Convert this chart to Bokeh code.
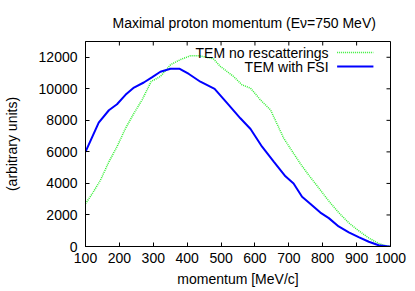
from bokeh.plotting import figure
from bokeh.models import Range1d, Label, FixedTicker
from bokeh.embed import file_html
from bokeh.resources import INLINE

# ---- data ----
p_nores = [100, 120, 144, 169, 193, 218, 243, 267, 294, 321, 351, 380, 410, 434,
           469, 478, 498, 537, 562, 587, 616, 646, 685, 705, 734, 759, 788, 818,
           847, 877, 906, 936, 965, 990, 1000]
v_nores = [2720, 3350, 4200, 5370, 6330, 7490, 8450, 9300, 10470, 10780, 11530,
           11850, 12100, 12100, 11950, 11890, 11420, 10780, 10250, 10040, 9300,
           8660, 6860, 6200, 5250, 4520, 3720, 2880, 2150, 1500, 1000, 540, 190, 20, 0]

p_fsi = [100, 139, 169, 193, 218, 243, 272, 297, 321, 351, 378, 405, 439, 481,
         518, 557, 587, 621, 656, 690, 714, 739, 764, 793, 818, 847, 877, 906,
         936, 965, 995, 1000]
v_fsi = [6000, 7850, 8640, 9020, 9620, 10080, 10400, 10740, 11080, 11270, 11270,
         10940, 10450, 10000, 9090, 8130, 7450, 6330, 5370, 4450, 4000, 3150,
         2700, 2150, 1800, 1270, 900, 600, 300, 80, 0, 0]

x_ticks = [100, 200, 300, 400, 500, 600, 700, 800, 900, 1000]
y_ticks = [0, 2000, 4000, 6000, 8000, 10000, 12000]

title_text = "Maximal proton momentum (Eν=750  MeV)"
label_nores = "TEM no rescatterings"
label_fsi = "TEM with FSI"
x_title = "momentum [MeV/c]"
y_title = "(arbitrary units)"

FONT = "Liberation Sans"
FS = "14px"
GREEN = "#33ee33"
BLUE = "#0000ff"

XMIN, XMAX, YMIN, YMAX = 100, 1000, 0, 13000
FRAME_W, FRAME_H = 306, 205

p = figure(width=415, height=291, output_backend="svg", toolbar_location=None,
           x_range=Range1d(XMIN, XMAX), y_range=Range1d(YMIN, YMAX),
           min_border_left=84, min_border_right=25, min_border_top=41,
           min_border_bottom=45)
p.grid.visible = False
p.outline_line_color = "black"
p.outline_line_width = 1
p.background_fill_color = "white"
p.border_fill_color = "white"

p.title.text = title_text
p.title.text_font = FONT
p.title.text_font_size = FS
p.title.text_font_style = "normal"
p.title.text_color = "black"
p.title.align = "left"
p.title.offset = 27
p.title.standoff = 22

for ax in [p.xaxis[0], p.yaxis[0]]:
    ax.major_label_text_font = FONT
    ax.major_label_text_font_size = FS
    ax.major_label_text_color = "black"
    ax.axis_label_text_font = FONT
    ax.axis_label_text_font_size = FS
    ax.axis_label_text_font_style = "normal"
    ax.axis_label_text_color = "black"
    ax.major_tick_in = 4
    ax.major_tick_out = 0
    ax.minor_tick_line_color = None
    ax.axis_line_color = "black"
    ax.major_tick_line_color = "black"

p.xaxis[0].ticker = FixedTicker(ticks=x_ticks)
p.yaxis[0].ticker = FixedTicker(ticks=y_ticks)
p.xaxis[0].axis_label = x_title
p.yaxis[0].axis_label = y_title
p.xaxis[0].major_label_standoff = 6
p.yaxis[0].major_label_standoff = 8
p.xaxis[0].axis_label_standoff = 5
p.yaxis[0].axis_label_standoff = 16

# mirror ticks on top and right (gnuplot style)
dy = 4 / FRAME_H * (YMAX - YMIN)
dx = 4 / FRAME_W * (XMAX - XMIN)
p.segment(x0=x_ticks, y0=[YMAX] * len(x_ticks), x1=x_ticks,
          y1=[YMAX - dy] * len(x_ticks), line_color="black", line_width=1)
p.segment(x0=[XMAX] * len(y_ticks), y0=y_ticks, x1=[XMAX - dx] * len(y_ticks),
          y1=y_ticks, line_color="black", line_width=1)

# curves
p.line(p_nores, v_nores, line_color=GREEN, line_width=1.5, line_dash="1 1")
p.line(p_fsi, v_fsi, line_color=BLUE, line_width=2)

# legend (gnuplot style: text right aligned, sample to the right)
fx = lambda f: XMIN + f * (XMAX - XMIN)
fy = lambda f: YMIN + f * (YMAX - YMIN)
rows = [(label_nores, GREEN, 1.5, "1 1", 0.946), (label_fsi, BLUE, 2, "solid", 0.878)]
for text, col, lw, dash, yf in rows:
    p.add_layout(Label(x=fx(0.797), y=fy(yf), text=text, text_align="right",
                       text_baseline="middle", text_font=FONT, text_font_size=FS,
                       text_color="black"))
    p.line([fx(0.825), fx(0.944)], [fy(yf), fy(yf)], line_color=col,
           line_width=lw, line_dash=dash)

open("out.html", "w").write(file_html(p, INLINE))
